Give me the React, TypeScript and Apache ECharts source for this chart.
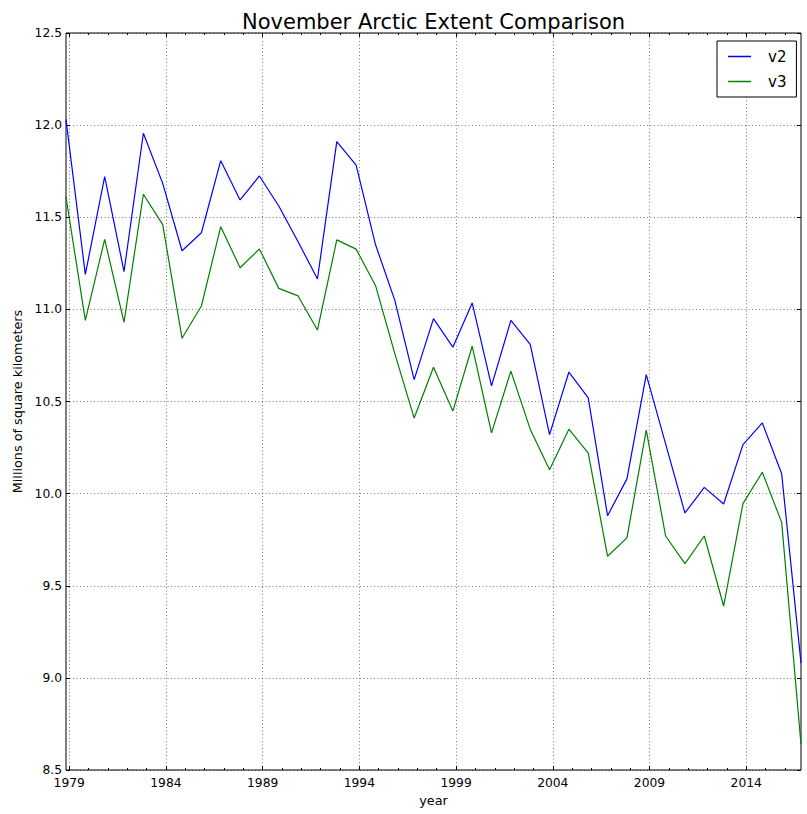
import React, { useEffect, useRef } from "react";
import * as echarts from "echarts";

// ---- data (November extent, millions of km²) ----
const YEARS = [
  1978, 1979, 1980, 1981, 1982, 1983, 1984, 1985, 1986, 1987, 1988, 1989, 1990,
  1991, 1992, 1993, 1994, 1995, 1996, 1997, 1998, 1999, 2000, 2001, 2002, 2003,
  2004, 2005, 2006, 2007, 2008, 2009, 2010, 2011, 2012, 2013, 2014, 2015, 2016,
];
const V2 = [
  12.03, 11.19, 11.72, 11.205, 11.956, 11.684, 11.318, 11.416, 11.807, 11.594,
  11.724, 11.561, 11.367, 11.165, 11.91, 11.783, 11.352, 11.049, 10.619, 10.95,
  10.795, 11.035, 10.585, 10.94, 10.81, 10.32, 10.66, 10.52, 9.88, 10.08,
  10.646, 10.27, 9.895, 10.034, 9.944, 10.266, 10.384, 10.108, 9.08,
];
const V3 = [
  11.61, 10.94, 11.38, 10.93, 11.625, 11.46, 10.843, 11.018, 11.449, 11.226,
  11.328, 11.114, 11.073, 10.888, 11.377, 11.327, 11.13, 10.76, 10.41, 10.686,
  10.448, 10.8, 10.33, 10.665, 10.35, 10.13, 10.35, 10.22, 9.66, 9.76,
  10.345, 9.77, 9.62, 9.77, 9.39, 9.946, 10.116, 9.844, 8.64,
];
const MAJOR_TICKS = [1979, 1984, 1989, 1994, 1999, 2004, 2009, 2014];
const MINOR_TICKS = [
  1979, 1980, 1981, 1982, 1983, 1984, 1985, 1986, 1987, 1988, 1989, 1990, 1991,
  1992, 1993, 1994, 1995, 1996, 1997, 1998, 1999, 2000, 2001, 2002, 2003, 2004,
  2005, 2006, 2007, 2008, 2009, 2010, 2011, 2012, 2013, 2014, 2015, 2016,
];
const Y_MIN = 8.5;
const Y_MAX = 12.5;
const Y_STEP = 0.5;
const MONTH_OFFSET = 10 / 12; // November

// ---- layout ----
const W = 807;
const H = 814;
const GRID = { left: 66, right: 6, top: 33, bottom: 44 };
const PLOT_H = H - GRID.top - GRID.bottom;
const FONT = "DejaVu Sans";

const X_MIN = YEARS[0] + MONTH_OFFSET;
const X_MAX = YEARS[YEARS.length - 1] + MONTH_OFFSET;

const gridLineStyle = { color: "#000", width: 0.7, type: [1, 2.5], opacity: 0.75 };

function tickAxis(position: string, values: number[], length: number, lineStyle: any) {
  return {
    type: "value",
    min: X_MIN,
    max: X_MAX,
    position,
    axisLine: { show: false },
    axisTick: { show: true, inside: true, length, customValues: values, lineStyle },
    axisLabel: { show: false },
    splitLine: { show: false },
  };
}

export default function App() {
  const ref = useRef<HTMLDivElement>(null);

  useEffect(() => {
    if (!ref.current) return;
    const chart = echarts.init(ref.current, undefined, { renderer: "svg" });
    const tickStyle = { color: "#000", width: 1 };

    chart.setOption({
      animation: false,
      backgroundColor: "#fff",
      textStyle: { fontFamily: FONT },
      title: {
        text: "November Arctic Extent Comparison",
        left: 237,
        top: 6,
        textStyle: { fontSize: 21, fontWeight: "normal", color: "#000", fontFamily: FONT },
      },
      legend: {
        data: ["v2", "v3"],
        orient: "vertical",
        left: 717,
        top: 41,
        padding: [8, 10, 8, 11],
        borderColor: "#000",
        borderWidth: 1,
        backgroundColor: "#fff",
        icon: "rect",
        itemGap: 10,
        itemWidth: 23,
        itemHeight: 1.5,
        textStyle: { fontSize: 15, color: "#000", fontFamily: FONT, padding: [0, 0, 0, 12] },
      },
      grid: {
        left: GRID.left,
        right: GRID.right,
        top: GRID.top,
        bottom: GRID.bottom,
        show: true,
        borderColor: "#000",
        borderWidth: 1,
        backgroundColor: "transparent",
      },
      xAxis: [
        {
          type: "value",
          min: X_MIN,
          max: X_MAX,
          position: "bottom",
          name: "year",
          nameLocation: "middle",
          nameGap: 24,
          nameTextStyle: { fontSize: 12.8, color: "#000", fontFamily: FONT },
          axisLine: { show: false },
          axisTick: { show: true, inside: true, length: 4, customValues: MAJOR_TICKS, lineStyle: tickStyle },
          axisLabel: {
            show: true,
            customValues: MAJOR_TICKS,
            margin: 6,
            lineHeight: 13,
            fontSize: 12.3,
            color: "#000",
            fontFamily: FONT,
            formatter: (v: number) => String(Math.round(v)),
          },
          splitLine: { show: false },
        },
        tickAxis("bottom", MINOR_TICKS, 2, tickStyle),
        tickAxis("top", MAJOR_TICKS, 4, tickStyle),
        tickAxis("top", MINOR_TICKS, 2, tickStyle),
        tickAxis("bottom", MAJOR_TICKS, PLOT_H, gridLineStyle),
      ],
      yAxis: [
        {
          type: "value",
          min: Y_MIN,
          max: Y_MAX,
          interval: Y_STEP,
          position: "left",
          name: "Millions of square kilometers",
          nameLocation: "middle",
          nameGap: 42,
          nameTextStyle: { fontSize: 12.8, color: "#000", fontFamily: FONT },
          axisLine: { show: false },
          axisTick: { show: true, inside: true, length: 4, lineStyle: tickStyle },
          axisLabel: {
            margin: 4,
            lineHeight: 11,
            fontSize: 12.3,
            color: "#000",
            fontFamily: FONT,
            formatter: (v: number) => v.toFixed(1),
          },
          splitLine: { show: true, lineStyle: gridLineStyle },
        },
        {
          type: "value",
          min: Y_MIN,
          max: Y_MAX,
          interval: Y_STEP,
          position: "right",
          axisLine: { show: false },
          axisTick: { show: true, inside: true, length: 4, lineStyle: tickStyle },
          axisLabel: { show: false },
          splitLine: { show: false },
        },
      ],
      series: [
        {
          name: "v2",
          type: "line",
          xAxisIndex: 0,
          yAxisIndex: 0,
          symbol: "none",
          showSymbol: false,
          lineStyle: { color: "#0000ff", width: 1.2 },
          itemStyle: { color: "#0000ff" },
          data: YEARS.map((y, i) => [y + MONTH_OFFSET, V2[i]]),
        },
        {
          name: "v3",
          type: "line",
          xAxisIndex: 0,
          yAxisIndex: 0,
          symbol: "none",
          showSymbol: false,
          lineStyle: { color: "#008000", width: 1.2 },
          itemStyle: { color: "#008000" },
          data: YEARS.map((y, i) => [y + MONTH_OFFSET, V3[i]]),
        },
      ],
    });

    return () => chart.dispose();
  }, []);

  return (
    <div
      ref={ref}
      style={{ position: "fixed", left: 0, top: 0, width: W, height: H }}
    />
  );
}
